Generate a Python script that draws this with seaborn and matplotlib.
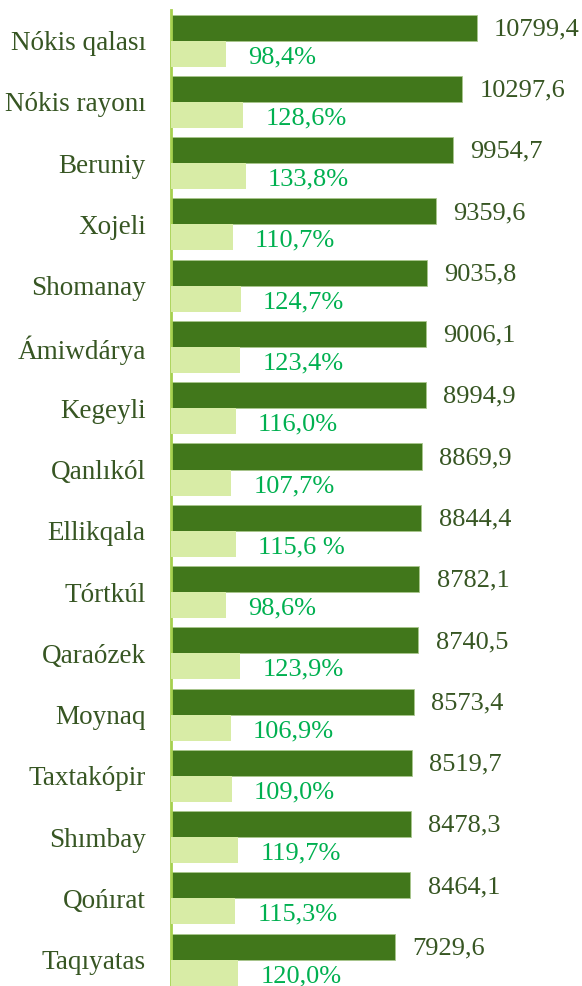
import seaborn as sns
import pandas as pd
import matplotlib
matplotlib.use('Agg')
import matplotlib.pyplot as plt

regions = ['Nókis qalası', 'Nókis rayonı', 'Beruniy', 'Xojeli', 'Shomanay', 'Ámiwdárya',
           'Kegeyli', 'Qanlıkól', 'Ellikqala', 'Tórtkúl', 'Qaraózek', 'Moynaq',
           'Taxtakópir', 'Shımbay', 'Qońırat', 'Taqıyatas']
volume = [10799.4, 10297.6, 9954.7, 9359.6, 9035.8, 9006.1, 8994.9, 8869.9,
          8844.4, 8782.1, 8740.5, 8573.4, 8519.7, 8478.3, 8464.1, 7929.6]
growth = [98.4, 128.6, 133.8, 110.7, 124.7, 123.4, 116.0, 107.7,
          115.6, 98.6, 123.9, 106.9, 109.0, 119.7, 115.3, 120.0]
growth_labels = ['98,4%', '128,6%', '133,8%', '110,7%', '124,7%', '123,4%', '116,0%', '107,7%',
                 '115,6 %', '98,6%', '123,9%', '106,9%', '109,0%', '119,7%', '115,3%', '120,0%']

series = ['volume', 'growth']
df_vol = pd.DataFrame({'region': regions, 'value': volume, 'series': 'volume'})
df_gr = pd.DataFrame({'region': regions, 'value': growth, 'series': 'growth'})

dark = '#41771b'
light = '#d8eca6'
label_col = '#375623'
pct_col = '#00b050'

sns.set_style('white')
plt.rcParams['font.family'] = ['Liberation Serif', 'DejaVu Serif']

fig = plt.figure(figsize=(5.82, 9.86), dpi=100)
ax = fig.add_axes([170.7 / 582, 0, 411.3 / 582, 976 / 986])
ax2 = ax.twiny()

pal = {'volume': dark, 'growth': light}
sns.barplot(data=df_vol, x='value', y='region', hue='series', hue_order=series,
            palette=pal, order=regions, width=0.85, dodge=True, legend=False,
            saturation=1, edgecolor='#a9c78d', linewidth=0.6, ax=ax)
sns.barplot(data=df_gr, x='value', y='region', hue='series', hue_order=series,
            palette=pal, order=regions, width=0.85, dodge=True, legend=False,
            saturation=1, linewidth=0, ax=ax2)

ax.set_xlim(0, 14518)
ax2.set_xlim(0, 732)
ax.set_ylim(15.43, -0.5)

vol_labels = [f'{v:.1f}'.replace('.', ',') for v in volume]
for c in ax.containers:
    if len(c) == len(regions):
        anns = ax.bar_label(c, labels=vol_labels, padding=12.5, fontsize=19, color=label_col)
        for a in anns:
            a.xyann = (12.5, -1.2)
for c in ax2.containers:
    if len(c) == len(regions):
        anns = ax2.bar_label(c, labels=growth_labels, padding=16, fontsize=19, color=pct_col)
        for a in anns:
            a.xyann = (16, -2.5)

ax.set_xlabel('')
ax.set_ylabel('')
ax2.set_xlabel('')
ax2.set_ylabel('')
ax.set_xticks([])
ax2.set_xticks([])
ax.tick_params(axis='y', length=0, pad=18, labelsize=19.5, labelcolor=label_col)
for lbl in ax.get_yticklabels():
    lbl.set_y(lbl.get_position()[1])
for s in ['top', 'right', 'bottom']:
    ax.spines[s].set_visible(False)
for s in ax2.spines.values():
    s.set_visible(False)
ax.spines['left'].set_color('#a6d04e')
ax.spines['left'].set_linewidth(2)

fig.savefig('out.png', dpi=100)
